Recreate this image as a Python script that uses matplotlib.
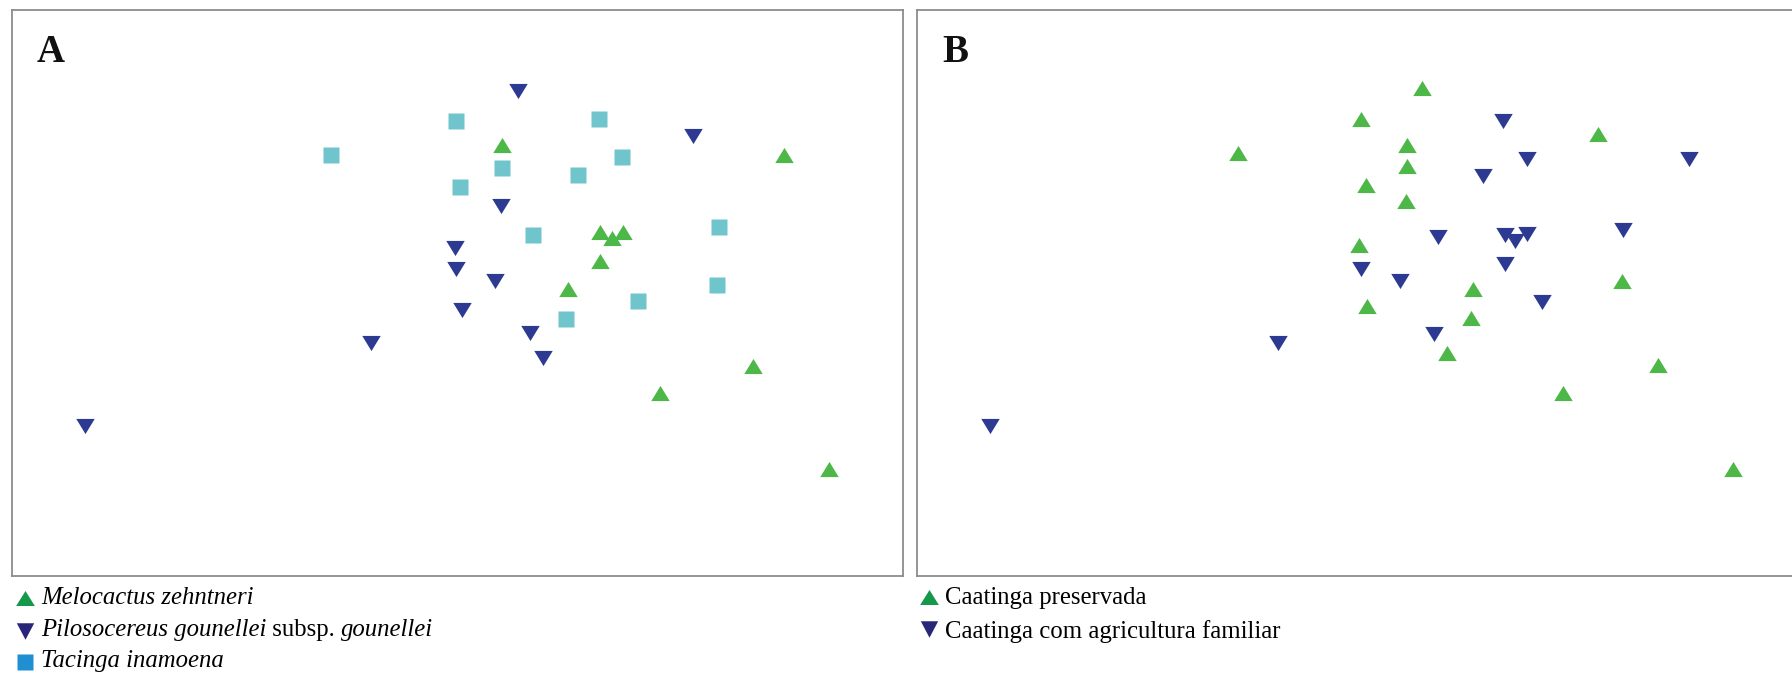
import matplotlib
matplotlib.use("Agg")
import matplotlib.pyplot as plt
from matplotlib.lines import Line2D

# ---------------- data (NMDS-like ordination scores) ----------------
# Panel A: grouped by species
mel_x = [0.195, 1.43, 0.625, 0.675, 0.725, 0.625, 0.485, 1.295, 0.885, 1.625]
mel_y = [0.645, 0.60, 0.265, 0.24, 0.265, 0.14, 0.015, -0.32, -0.44, -0.77]

pil_x = [0.265, 1.03, 0.19, -0.01, -0.005, 0.165, 0.02, 0.32, 0.375, -0.375, -1.63]
pil_y = [0.88, 0.685, 0.38, 0.195, 0.105, 0.05, -0.075, -0.175, -0.285, -0.22, -0.585]

tac_x = [-0.005, 0.62, -0.55, 0.195, 0.72, 0.53, 0.01, 0.33, 1.145, 1.135, 0.79, 0.475]
tac_y = [0.75, 0.76, 0.60, 0.545, 0.595, 0.515, 0.46, 0.25, 0.285, 0.035, -0.035, -0.115]

# Panel B: grouped by habitat
pres_x = [0.26, -0.005, 1.03, -0.545, 0.195, 0.195, 0.015, 0.19, -0.015, 1.135, 0.485,
          0.02, 0.475, 0.37, 1.295, 0.88, 1.62]
pres_y = [0.895, 0.76, 0.695, 0.61, 0.645, 0.555, 0.47, 0.40, 0.21, 0.05, 0.015,
          -0.06, -0.11, -0.265, -0.315, -0.44, -0.77]

agri_x = [0.615, 0.72, 1.43, 0.53, 0.33, 0.625, 0.67, 0.72, 1.14, -0.005, 0.625,
          0.165, 0.785, 0.315, -0.37, -1.63]
agri_y = [0.75, 0.585, 0.585, 0.51, 0.245, 0.25, 0.225, 0.255, 0.275, 0.105, 0.125,
          0.05, -0.04, -0.18, -0.22, -0.585]

legend_a = ["Melocactus zehntneri", "Pilosocereus gounellei", "subsp.", "gounellei",
            "Tacinga inamoena"]
legend_b = ["Caatinga preservada", "Caatinga com agricultura familiar"]
panel_labels = ["A", "B"]

# ---------------- style ----------------
W, H = 1792, 674
DPI = 100
GREEN = "#4db848"
NAVY = "#2d3a92"
CYAN = "#70c4cc"
LEG_GREEN = "#16984a"
LEG_NAVY = "#29267a"
LEG_BLUE = "#1f8fd2"
FRAME = "#8c8c8c"
SERIF = ["Liberation Serif", "DejaVu Serif"]

UP = [(-1, -0.82), (1, -0.82), (0, 0.82)]
DOWN = [(-1, 0.82), (1, 0.82), (0, -0.82)]

fig = plt.figure(figsize=(W / DPI, H / DPI), dpi=DPI)
fig.patch.set_facecolor("white")

XLIM = (-1.9475, 1.95)
YLIM = (-1.24, 1.2365)


def px_axes(left, top, width, height):
    return fig.add_axes([left / W, 1 - (top + height) / H, width / W, height / H])


axA = px_axes(12, 10, 891, 566)
axB = px_axes(917, 10, 891, 566)

for ax in (axA, axB):
    ax.set_xlim(*XLIM)
    ax.set_ylim(*YLIM)
    ax.set_xticks([])
    ax.set_yticks([])
    for s in ax.spines.values():
        s.set_color(FRAME)
        s.set_linewidth(1.3)

TRI_MS = 13.3
SQ_MS = 11.4

axA.plot(tac_x, tac_y, linestyle="none", marker="s", ms=SQ_MS, color=CYAN, mec="none")
axA.plot(mel_x, mel_y, linestyle="none", marker=UP, ms=TRI_MS, color=GREEN, mec="none")
axA.plot(pil_x, pil_y, linestyle="none", marker=DOWN, ms=TRI_MS, color=NAVY, mec="none")

axB.plot(pres_x, pres_y, linestyle="none", marker=UP, ms=TRI_MS, color=GREEN, mec="none")
axB.plot(agri_x, agri_y, linestyle="none", marker=DOWN, ms=TRI_MS, color=NAVY, mec="none")

# panel letters
for ax, lab in zip((axA, axB), panel_labels):
    ax.text(25 / 891, 1 - 52 / 566, lab, transform=ax.transAxes, fontsize=28,
            fontweight="bold", family=SERIF, ha="left", va="baseline", color="#111111")


# ---------------- legends (below the panels) ----------------
def fx(x):
    return x / W


def fy(y):
    return 1 - y / H


def leg_marker(x, y, marker, ms, color):
    fig.add_artist(Line2D([fx(x)], [fy(y)], transform=fig.transFigure, linestyle="none",
                          marker=marker, ms=ms, color=color, mec="none"))


LEG_FS = 17.8
LUP = [(-1, -0.8), (1, -0.8), (0, 0.8)]
LDOWN = [(-1, 0.95), (1, 0.95), (0, -0.95)]

leg_marker(24.5, 598, LUP, 13.5, LEG_GREEN)
leg_marker(25, 631, LDOWN, 12.5, LEG_NAVY)
leg_marker(24.5, 661.5, "s", 11.5, LEG_BLUE)

fig.text(fx(41), fy(604), legend_a[0], fontsize=LEG_FS, family=SERIF, style="italic",
         va="baseline", ha="left")
fig.text(fx(41), fy(667), legend_a[4], fontsize=LEG_FS, family=SERIF, style="italic",
         va="baseline", ha="left")

# mixed italic / roman line
renderer = fig.canvas.get_renderer()
x0 = 41
pieces = [(legend_a[1], "italic"), (" " + legend_a[2] + " ", "normal"), (legend_a[3], "italic")]
for txt, st in pieces:
    t = fig.text(fx(x0), fy(636), txt, fontsize=LEG_FS, family=SERIF, style=st,
                 va="baseline", ha="left")
    bb = t.get_window_extent(renderer=renderer)
    x0 += bb.width

leg_marker(928.5, 597, LUP, 13.5, LEG_GREEN)
leg_marker(929, 629, LDOWN, 12.5, LEG_NAVY)
fig.text(fx(945), fy(604), legend_b[0], fontsize=LEG_FS, family=SERIF,
         va="baseline", ha="left")
fig.text(fx(945), fy(638), legend_b[1], fontsize=LEG_FS, family=SERIF,
         va="baseline", ha="left")

fig.savefig("out.png", dpi=DPI, facecolor="white")
